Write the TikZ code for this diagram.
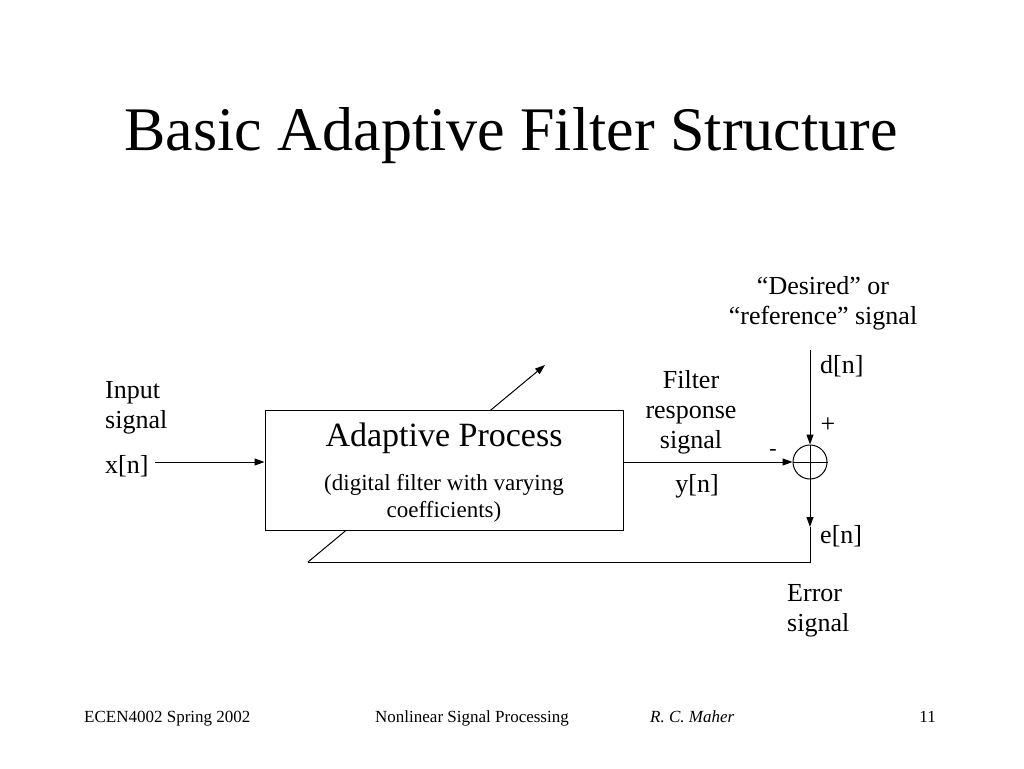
\documentclass[tikz,border=0pt]{standalone}
\usepackage{fontspec}
\setmainfont{Liberation Serif}
\usetikzlibrary{arrows.meta,shapes}
\begin{document}
\begin{tikzpicture}[x=1pt,y=-1pt,>={Triangle[length=10pt,width=7pt]}]
\tikzstyle{every node}=[inner sep=0pt,font=\fontsize{26}{30}\selectfont]
\tikzstyle{wire}=[line width=1pt]
\useasboundingbox (0,0) rectangle (1024,768);
% title
\node (title) at (511,136) {\fontsize{62}{66}\selectfont Basic Adaptive Filter Structure};
% feedback line behind the box
\coordinate (ebot) at (810,527);
\coordinate (ecorner) at (810,562);
\coordinate (fbstart) at (308,562);
\coordinate (fbtip) at (545,365);
\draw [wire] (ebot) -- (ecorner) -- (fbstart);
\draw [wire,->] (fbstart) -- (fbtip);
% adaptive filter block
\node (proc) [rectangle,draw,line width=1pt,fill=white,minimum width=358pt,minimum height=120pt] at (444,470) {};
\node (proct) at (444,438) {\fontsize{34}{36}\selectfont Adaptive Process};
\node (procs) [align=center,font=\fontsize{23}{27}\selectfont] at (444,498) {(digital filter with varying\\coefficients)};
% summing junction
\node (sum) [circle,draw,line width=1pt,minimum size=34pt] at (810,462) {};
\draw [wire] (sum.west) -- (sum.east);
\draw [wire] (sum.north) -- (sum.south);
\coordinate (xin) at (155,462);
\coordinate (dtop) at (810,350);
\draw [wire,->] (xin) -- (xin -| proc.west);
\draw [wire,->] (proc.east |- sum.west) -- (sum.west);
\draw [wire,->] (dtop) -- (sum.north);
\draw [wire,->] (sum.south) -- (ebot);
% labels
\node (inlbl) [align=left,anchor=west] at (105,408) {Input\\signal};
\node (xlbl) [anchor=west] at (105,466) {x[n]};
\node (ylbl) [align=center] at (691,412) {Filter\\response\\signal};
\node (yn) at (697,486) {y[n]};
\node (dlbl) [align=center] at (823,303) {``Desired'' or\\``reference'' signal};
\node (dn) [anchor=west] at (820,366) {d[n]};
\node (en) [anchor=west] at (820,536) {e[n]};
\node (plus) at (828,425) {+};
\node (minus) at (773,452) {\fontsize{22}{24}\selectfont -};
\node (errlbl) [align=left,anchor=west] at (787,611) {Error\\signal};
% footer
\tikzstyle{every node}=[inner sep=0pt,font=\fontsize{17}{20}\selectfont]
\node (f1) [anchor=base west] at (84,722) {ECEN4002 Spring 2002};
\node (f2) [anchor=base west] at (375,722) {Nonlinear Signal Processing};
\node (f3) [anchor=base west] at (650,722) {\itshape R. C. Maher};
\node (f4) [anchor=base east] at (936,722) {11};
\end{tikzpicture}
\end{document}
